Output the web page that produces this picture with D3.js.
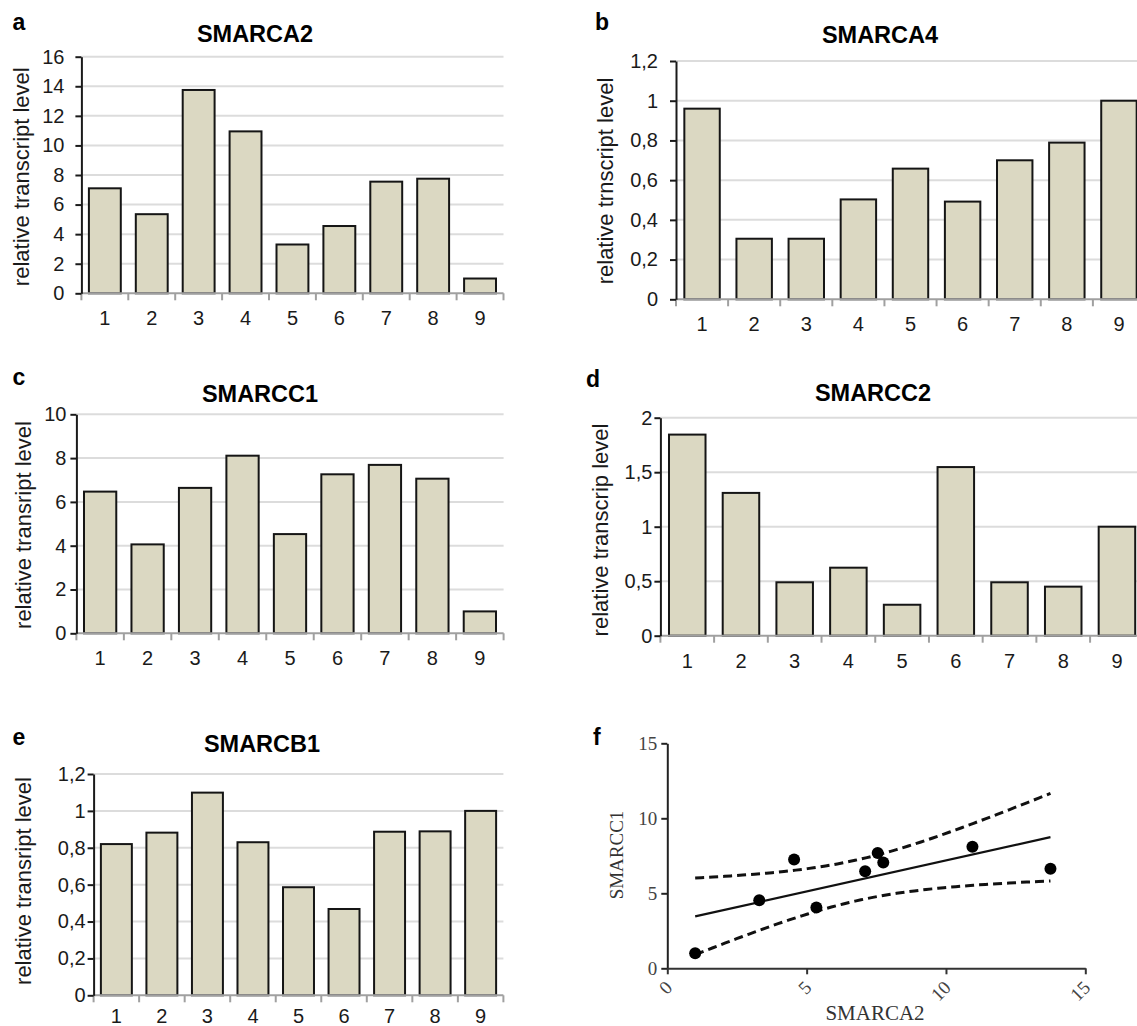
<!DOCTYPE html>
<html>
<head>
<meta charset="utf-8">
<script src="https://cdn.jsdelivr.net/npm/d3@7"></script>
<style>
  body { margin: 0; background: #fff; }
  svg { display: block; }
</style>
</head>
<body>
<div id="fig"></div>
<script>
// Data
const cellLines = ['1', '2', '3', '4', '5', '6', '7', '8', '9'];

const smarca2 = [7.1, 5.35, 13.75, 10.95, 3.3, 4.55, 7.55, 7.75, 1.0];
const smarca4 = [0.96, 0.305, 0.305, 0.503, 0.658, 0.492, 0.70, 0.789, 1.0];
const smarcc1 = [6.47, 4.06, 6.64, 8.11, 4.53, 7.26, 7.69, 7.06, 1.0];
const smarcc2 = [1.845, 1.31, 0.49, 0.624, 0.284, 1.547, 0.49, 0.45, 1.0];
const smarcb1 = [0.82, 0.882, 1.099, 0.83, 0.586, 0.468, 0.887, 0.889, 1.0];

const ticksA2 = [0, 2, 4, 6, 8, 10, 12, 14, 16];
const ticksA4 = [0, 0.2, 0.4, 0.6, 0.8, 1, 1.2];
const ticksC1 = [0, 2, 4, 6, 8, 10];
const ticksC2 = [0, 0.5, 1, 1.5, 2];
const ticksB1 = [0, 0.2, 0.4, 0.6, 0.8, 1, 1.2];

const scatterTicks = [0, 5, 10, 15];

const width = 1137;
const height = 1026;

const sans = '"Liberation Sans", Arial, sans-serif';
const serif = '"Liberation Serif", "Times New Roman", serif';
const barFill = '#dbd8c2';

// comma decimal separator, as in the figure
const fmt = d => String(d).replace('.', ',');

const svg = d3.select('#fig')
    .append('svg')
    .attr('width', width)
    .attr('height', height);

const panels = [
    { letter: 'a', title: 'SMARCA2', ylabel: 'relative transcript level', values: smarca2, ticks: ticksA2,
      x0: 81.4, x1: 503.5, yTop: 56.7, y0: 293.3, titleX: 255, titleY: 41.7, letterX: 12.5, letterY: 30,
      ylabX: 21.5, ylabY: 176.7, pad: 11, xpad: 18 },
    { letter: 'b', title: 'SMARCA4', ylabel: 'relative trnscript level', values: smarca4, ticks: ticksA4,
      x0: 676, x1: 1145, yTop: 61, y0: 299.3, titleX: 880, titleY: 42.7, letterX: 595, letterY: 30,
      ylabX: 605, ylabY: 181, pad: 12, xpad: 18 },
    { letter: 'c', title: 'SMARCC1', ylabel: 'relative transript level', values: smarcc1, ticks: ticksC1,
      x0: 76.4, x1: 503.6, yTop: 414.3, y0: 633.3, titleX: 260, titleY: 401.7, letterX: 12.5, letterY: 385,
      ylabX: 23, ylabY: 525, pad: 4, xpad: 18 },
    { letter: 'd', title: 'SMARCC2', ylabel: 'relative transcrip level', values: smarcc2, ticks: ticksC2,
      x0: 660.4, x1: 1143.8, yTop: 417.7, y0: 635.7, titleX: 873, titleY: 400.7, letterX: 586, letterY: 386.7,
      ylabX: 600, ylabY: 530, pad: 2, xpad: 18 },
    { letter: 'e', title: 'SMARCB1', ylabel: 'relative transript level', values: smarcb1, ticks: ticksB1,
      x0: 93.6, x1: 503.4, yTop: 774, y0: 995.3, titleX: 262, titleY: 751.7, letterX: 12.5, letterY: 745,
      ylabX: 23, ylabY: 881, pad: 2, xpad: 13.5 }
];

panels.forEach(p => drawBarPanel(p));
drawScatter();

function drawBarPanel(p) {
    const g = svg.append('g');
    const yMax = p.ticks[p.ticks.length - 1];

    const x = d3.scaleBand()
        .domain(cellLines)
        .range([p.x0, p.x1])
        .paddingInner(0.32)
        .paddingOuter(0.16);

    const y = d3.scaleLinear()
        .domain([0, yMax])
        .range([p.y0, p.yTop]);

    // gridlines
    g.selectAll('.grid')
        .data(p.ticks.filter(t => t > 0))
        .enter()
        .append('line')
        .attr('x1', p.x0)
        .attr('x2', p.x1)
        .attr('y1', d => y(d))
        .attr('y2', d => y(d))
        .attr('stroke', '#dcdcdc')
        .attr('stroke-width', 2);

    // bars
    g.selectAll('.bar')
        .data(p.values)
        .enter()
        .append('rect')
        .attr('x', (d, i) => x(cellLines[i]))
        .attr('y', d => y(d))
        .attr('width', x.bandwidth())
        .attr('height', d => p.y0 - y(d))
        .attr('fill', barFill)
        .attr('stroke', '#151515')
        .attr('stroke-width', 2);

    // x axis: gray baseline with ticks at the band boundaries
    const step = x.step();
    g.append('line')
        .attr('x1', p.x0)
        .attr('x2', p.x1)
        .attr('y1', p.y0)
        .attr('y2', p.y0)
        .attr('stroke', '#a0a0a0')
        .attr('stroke-width', 2);

    g.selectAll('.xtick')
        .data(d3.range(cellLines.length + 1))
        .enter()
        .append('line')
        .attr('x1', i => p.x0 + i * step)
        .attr('x2', i => p.x0 + i * step)
        .attr('y1', p.y0)
        .attr('y2', p.y0 + 7)
        .attr('stroke', '#a0a0a0')
        .attr('stroke-width', 2);

    const xAxis = g.append('g')
        .attr('transform', `translate(0,${p.y0})`)
        .call(d3.axisBottom(x).tickSize(0).tickPadding(p.xpad));
    xAxis.select('.domain').remove();
    xAxis.selectAll('text')
        .attr('font-family', sans)
        .attr('font-size', 20)
        .attr('fill', '#1a1a1a');

    // y axis
    const yAxis = g.append('g')
        .attr('transform', `translate(${p.x0},0)`)
        .call(d3.axisLeft(y).tickValues(p.ticks).tickFormat(fmt).tickSize(6).tickSizeOuter(0).tickPadding(p.pad));
    yAxis.select('.domain')
        .attr('stroke', '#1a1a1a')
        .attr('stroke-width', 2);
    yAxis.selectAll('.tick line')
        .attr('stroke', '#1a1a1a')
        .attr('stroke-width', 2);
    yAxis.selectAll('text')
        .attr('font-family', sans)
        .attr('font-size', 20)
        .attr('fill', '#1a1a1a');

    // y label
    g.append('text')
        .attr('transform', `translate(${p.ylabX},${p.ylabY}) rotate(-90)`)
        .attr('text-anchor', 'middle')
        .attr('dominant-baseline', 'central')
        .attr('font-family', sans)
        .attr('font-size', 22)
        .attr('fill', '#1a1a1a')
        .text(p.ylabel);

    // title
    g.append('text')
        .attr('x', p.titleX)
        .attr('y', p.titleY)
        .attr('text-anchor', 'middle')
        .attr('font-family', sans)
        .attr('font-size', 23.5)
        .attr('font-weight', 'bold')
        .attr('fill', '#000')
        .text(p.title);

    // panel letter
    g.append('text')
        .attr('x', p.letterX)
        .attr('y', p.letterY)
        .attr('font-family', sans)
        .attr('font-size', 23)
        .attr('font-weight', 'bold')
        .attr('fill', '#000')
        .text(p.letter);
}

function drawScatter() {
    const g = svg.append('g');
    const x0 = 667.3, x1 = 1085.3, yBottom = 968.3, yTop = 743.3;

    const xs = d3.scaleLinear().domain([0, 15]).range([x0, x1]);
    const ys = d3.scaleLinear().domain([0, 15]).range([yBottom, yTop]);

    // linear regression of SMARCC1 on SMARCA2 with 95% confidence band
    const n = smarca2.length;
    const mx = d3.mean(smarca2);
    const my = d3.mean(smarcc1);
    const sxx = d3.sum(smarca2, v => (v - mx) * (v - mx));
    const sxy = d3.sum(smarca2, (v, i) => (v - mx) * (smarcc1[i] - my));
    const slope = sxy / sxx;
    const intercept = my - slope * mx;
    const sse = d3.sum(smarca2, (v, i) => Math.pow(smarcc1[i] - (intercept + slope * v), 2));
    const se = Math.sqrt(sse / (n - 2));
    const tCrit = 2.365; // t(0.975, df = 7)

    const [xmin, xmax] = d3.extent(smarca2);
    const xsamples = d3.range(0, 61).map(k => xmin + (xmax - xmin) * k / 60);
    const half = v => tCrit * se * Math.sqrt(1 / n + (v - mx) * (v - mx) / sxx);

    const line = d3.line()
        .x(d => xs(d[0]))
        .y(d => ys(d[1]));

    g.append('path')
        .attr('d', line([[xmin, intercept + slope * xmin], [xmax, intercept + slope * xmax]]))
        .attr('fill', 'none')
        .attr('stroke', '#111')
        .attr('stroke-width', 2.2);

    [1, -1].forEach(sign => {
        g.append('path')
            .attr('d', line(xsamples.map(v => [v, intercept + slope * v + sign * half(v)])))
            .attr('fill', 'none')
            .attr('stroke', '#111')
            .attr('stroke-width', 3)
            .attr('stroke-dasharray', '9,5');
    });

    // points
    g.selectAll('.dot')
        .data(smarca2)
        .enter()
        .append('circle')
        .attr('cx', d => xs(d))
        .attr('cy', (d, i) => ys(smarcc1[i]))
        .attr('r', 6)
        .attr('fill', '#000');

    // axes
    const yAxis = g.append('g')
        .attr('transform', `translate(${x0},0)`)
        .call(d3.axisLeft(ys).tickValues(scatterTicks).tickSize(6).tickSizeOuter(0).tickPadding(4));
    yAxis.select('.domain').attr('stroke', '#222').attr('stroke-width', 2);
    yAxis.selectAll('.tick line').attr('stroke', '#222').attr('stroke-width', 2);
    yAxis.selectAll('text')
        .attr('font-family', serif)
        .attr('font-size', 19)
        .attr('fill', '#444');

    const xAxis = g.append('g')
        .attr('transform', `translate(0,${yBottom})`)
        .call(d3.axisBottom(xs).tickValues(scatterTicks).tickSize(6).tickSizeOuter(0));
    xAxis.select('.domain').attr('stroke', '#333').attr('stroke-width', 2);
    xAxis.selectAll('.tick line').attr('stroke', '#333').attr('stroke-width', 2);
    xAxis.selectAll('text')
        .attr('font-family', serif)
        .attr('font-size', 19)
        .attr('fill', '#444')
        .attr('y', 0)
        .attr('dy', 0)
        .attr('text-anchor', 'end')
        .attr('dominant-baseline', 'central')
        .attr('transform', 'translate(1,16) rotate(-45)');

    g.append('text')
        .attr('x', 875)
        .attr('y', 1020)
        .attr('text-anchor', 'middle')
        .attr('font-family', serif)
        .attr('font-size', 21)
        .attr('fill', '#333')
        .text('SMARCA2');

    g.append('text')
        .attr('transform', 'translate(616,855) rotate(-90)')
        .attr('text-anchor', 'middle')
        .attr('dominant-baseline', 'central')
        .attr('font-family', serif)
        .attr('font-size', 19)
        .attr('fill', '#333')
        .text('SMARCC1');

    g.append('text')
        .attr('x', 593)
        .attr('y', 745)
        .attr('font-family', sans)
        .attr('font-size', 23)
        .attr('font-weight', 'bold')
        .attr('fill', '#000')
        .text('f');
}
</script>
</body>
</html>
